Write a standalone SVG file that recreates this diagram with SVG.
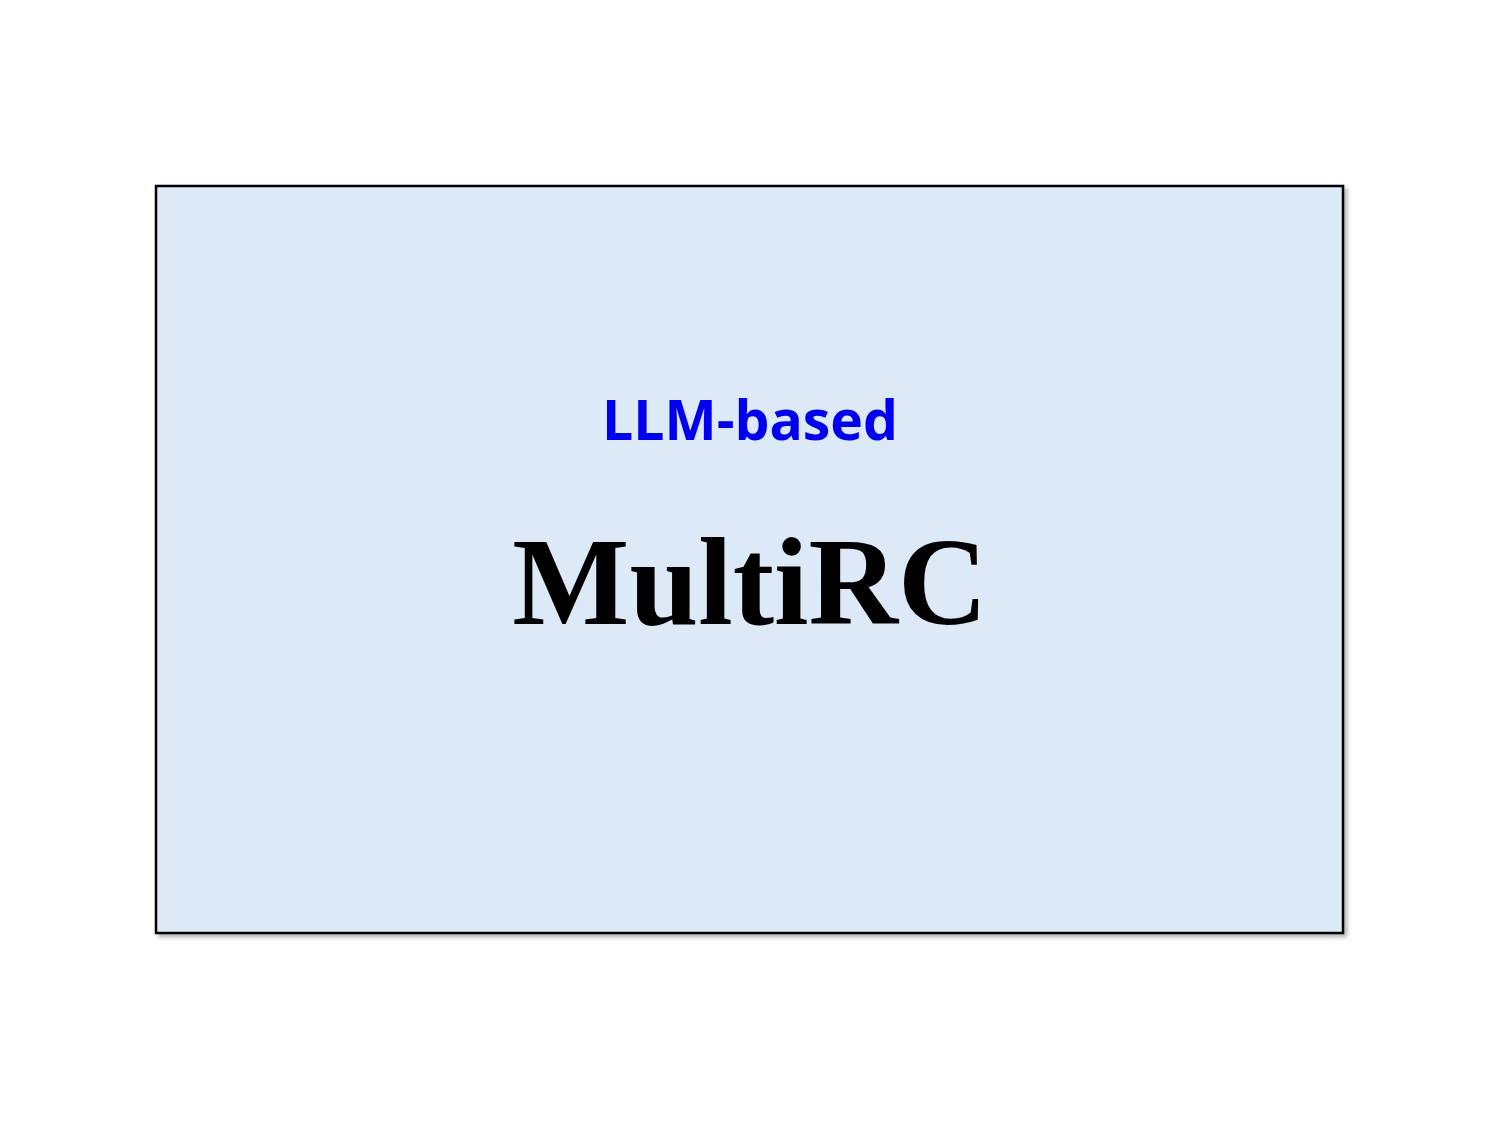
<svg xmlns="http://www.w3.org/2000/svg" width="1500" height="1125" viewBox="0 0 1500 1125">
<defs><filter id="sh" x="-5%" y="-5%" width="110%" height="110%"><feDropShadow dx="3" dy="3" stdDeviation="2" flood-color="#000" flood-opacity="0.3"/></filter></defs>
<rect width="1500" height="1125" fill="#fff"/>
<g id="box">
<rect x="156" y="186" width="1187" height="747" fill="#dce9f6" stroke="#000" stroke-width="2.5" filter="url(#sh)"/>
<text x="750" y="440" text-anchor="middle" font-family="'Open Sans','Noto Sans',sans-serif" font-weight="bold" font-size="55" fill="#0000ee" textLength="296" lengthAdjust="spacingAndGlyphs">LLM-based</text>
<text x="750" y="624" text-anchor="middle" font-family="'Liberation Serif',serif" font-weight="bold" font-size="124" fill="#000">MultiRC</text>
</g>
</svg>
